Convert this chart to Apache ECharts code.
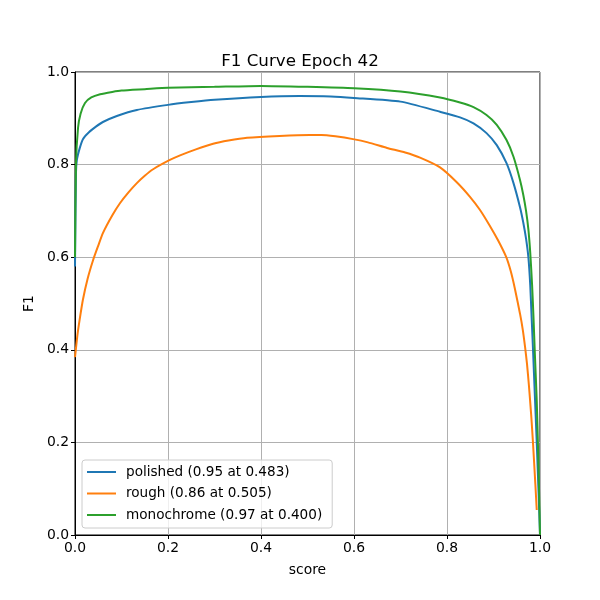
<!DOCTYPE html>
<html>
<head>
<meta charset="utf-8">
<script src="https://cdn.jsdelivr.net/npm/echarts@6/dist/echarts.min.js"></script>
<style>html,body{margin:0;padding:0;background:#fff}#c{width:600px;height:600px}</style>
</head>
<body>
<div id="c"></div>
<script>
var seriesNames = ['polished (0.95 at 0.483)', 'rough (0.86 at 0.505)', 'monochrome (0.97 at 0.400)'];
var xTicks = [0, 0.2, 0.4, 0.6, 0.8, 1.0];

var xPolished = [0, 0.002, 0.004, 0.01, 0.017, 0.03, 0.045, 0.06, 0.09, 0.133, 0.2, 0.25, 0.3, 0.4, 0.483, 0.55, 0.6, 0.7, 0.785, 0.828, 0.857, 0.885, 0.907, 0.928, 0.943, 0.957, 0.964, 0.97, 0.975, 0.979, 0.982, 0.985, 0.989, 0.993, 0.997, 1.0];
var yPolished = [0.58, 0.78, 0.81, 0.835, 0.855, 0.87, 0.882, 0.892, 0.905, 0.918, 0.929, 0.935, 0.94, 0.946, 0.948, 0.947, 0.944, 0.936, 0.914, 0.902, 0.889, 0.868, 0.842, 0.803, 0.76, 0.708, 0.675, 0.64, 0.6, 0.54, 0.47, 0.4, 0.3, 0.2, 0.09, 0.0];

var xRough = [0, 0.005, 0.01, 0.017, 0.027, 0.039, 0.05, 0.06, 0.08, 0.097, 0.115, 0.133, 0.15, 0.168, 0.204, 0.226, 0.26, 0.297, 0.33, 0.37, 0.44, 0.505, 0.53, 0.56, 0.598, 0.63, 0.671, 0.71, 0.742, 0.785, 0.821, 0.849, 0.871, 0.892, 0.91, 0.927, 0.937, 0.946, 0.957, 0.963, 0.968, 0.972, 0.976, 0.981, 0.985, 0.99, 0.993];
var yRough = [0.384, 0.43, 0.465, 0.508, 0.553, 0.594, 0.625, 0.652, 0.69, 0.717, 0.74, 0.76, 0.776, 0.79, 0.81, 0.82, 0.833, 0.845, 0.852, 0.858, 0.862, 0.864, 0.864, 0.861, 0.855, 0.848, 0.836, 0.826, 0.815, 0.794, 0.762, 0.731, 0.702, 0.668, 0.636, 0.601, 0.57, 0.532, 0.478, 0.443, 0.405, 0.37, 0.325, 0.26, 0.198, 0.11, 0.054];

var xMono = [0, 0.002, 0.0065, 0.012, 0.0215, 0.035, 0.054, 0.08, 0.1, 0.15, 0.2, 0.3, 0.4, 0.5, 0.6, 0.7, 0.785, 0.828, 0.857, 0.885, 0.907, 0.928, 0.943, 0.957, 0.964, 0.97, 0.975, 0.979, 0.983, 0.986, 0.989, 0.993, 0.996, 0.999, 1.0];
var yMono = [0.6, 0.8, 0.879, 0.91, 0.933, 0.945, 0.952, 0.957, 0.96, 0.963, 0.966, 0.968, 0.97, 0.968, 0.965, 0.958, 0.945, 0.934, 0.924, 0.907, 0.886, 0.853, 0.817, 0.767, 0.735, 0.7, 0.66, 0.61, 0.54, 0.47, 0.39, 0.29, 0.18, 0.05, 0.0];

function pairs(xs, ys) { return xs.map(function (x, i) { return [x, ys[i]]; }); }

var colors = ['#1f77b4', '#ff7f0e', '#2ca02c'];
var font = 'DejaVu Sans';
var chart = echarts.init(document.getElementById('c'), null, { renderer: 'canvas' });

function mkSeries(name, data, color) {
  return {
    name: name, type: 'line', data: data, symbol: 'none', showSymbol: false,
    smooth: 0.2,
    lineStyle: { color: color, width: 2 }, itemStyle: { color: color }, z: 3
  };
}

chart.setOption({
  animation: false,
  backgroundColor: '#fff',
  title: {
    text: 'F1 Curve Epoch 42', left: 'center', top: 48,
    textStyle: { fontFamily: font, fontSize: 16.7, fontWeight: 'normal', color: '#000' }
  },
  grid: { left: 75, right: 60, top: 72, bottom: 65, show: true, borderColor: '#000', borderWidth: 1, backgroundColor: 'transparent' },
  legend: {
    orient: 'vertical', left: 82, top: 460,
    padding: [5, 10, 6, 5], itemGap: 7.5, itemWidth: 29, itemHeight: 2,
    icon: 'rect',
    borderColor: '#cccccc', borderWidth: 1, borderRadius: 3, backgroundColor: 'rgba(255,255,255,0.8)',
    textStyle: { fontFamily: font, fontSize: 13.6, lineHeight: 14, color: '#000', padding: [0, 0, 0, 5] },
    data: seriesNames
  },
  xAxis: {
    type: 'value', min: 0, max: 1, interval: 0.2,
    name: 'score', nameLocation: 'middle', nameGap: 28,
    nameTextStyle: { fontFamily: font, fontSize: 13.9, color: '#000' },
    axisLine: { show: true, lineStyle: { color: '#000', width: 1 } },
    axisTick: { show: true, inside: false, length: 4, lineStyle: { color: '#000' } },
    axisLabel: { fontFamily: font, fontSize: 13.9, color: '#000', margin: 6, formatter: function (v) { return v.toFixed(1); } },
    splitLine: { show: true, lineStyle: { color: '#b0b0b0', width: 1 } }
  },
  yAxis: {
    type: 'value', min: 0, max: 1, interval: 0.2,
    name: 'F1', nameLocation: 'middle', nameGap: 38,
    nameTextStyle: { fontFamily: font, fontSize: 13.9, color: '#000' },
    axisLine: { show: true, lineStyle: { color: '#000', width: 1 } },
    axisTick: { show: true, inside: false, length: 4, lineStyle: { color: '#000' } },
    axisLabel: { fontFamily: font, fontSize: 13.9, color: '#000', margin: 6, formatter: function (v) { return v.toFixed(1); } },
    splitLine: { show: true, lineStyle: { color: '#b0b0b0', width: 1 } }
  },
  series: [
    mkSeries(seriesNames[0], pairs(xPolished, yPolished), colors[0]),
    mkSeries(seriesNames[1], pairs(xRough, yRough), colors[1]),
    mkSeries(seriesNames[2], pairs(xMono, yMono), colors[2])
  ]
});
</script>
</body>
</html>
